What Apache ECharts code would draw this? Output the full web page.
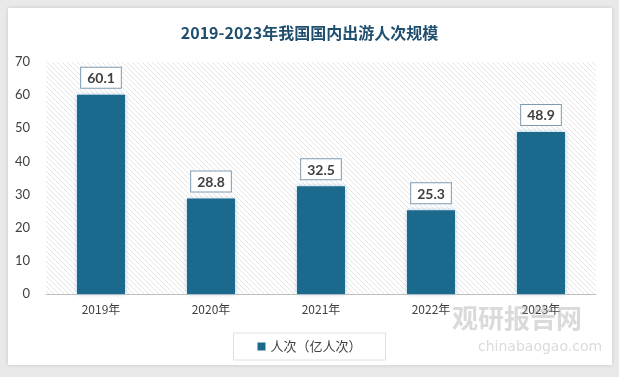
<!DOCTYPE html>
<html>
<head>
<meta charset="utf-8">
<script src="https://cdn.jsdelivr.net/npm/echarts@6/dist/echarts.min.js"></script>
<style>
  html, body { margin: 0; padding: 0; background: #fff; }
  #chart { width: 619px; height: 377px; }
</style>
</head>
<body>
<div id="chart"></div>
<script>
const titleText = '2019-2023年我国国内出游人次规模';
const years = ['2019年', '2020年', '2021年', '2022年', '2023年'];
const trips = [60.1, 28.8, 32.5, 25.3, 48.9];
const seriesName = '人次（亿人次）';

// diagonal hatch for the plot area
const hatch = document.createElement('canvas');
hatch.width = 5;
hatch.height = 5;
const hctx = hatch.getContext('2d');
hctx.fillStyle = '#ffffff';
hctx.fillRect(0, 0, 5, 5);
hctx.strokeStyle = '#dedede';
hctx.lineWidth = 0.8;
hctx.beginPath();
hctx.moveTo(0, 0); hctx.lineTo(5, 5);
hctx.moveTo(-1, 4); hctx.lineTo(1, 6);
hctx.moveTo(4, -1); hctx.lineTo(6, 1);
hctx.stroke();

const chart = echarts.init(document.getElementById('chart'));
const option = {
  backgroundColor: '#e9e9e9',
  animation: false,
  graphic: [
    {
      type: 'rect', z: -10,
      shape: { x: 8, y: 8, width: 604, height: 357 },
      style: { fill: '#ffffff', shadowBlur: 4, shadowColor: 'rgba(0,0,0,0.15)' }
    },
    {
      type: 'text', z: 100, left: 452, top: 305,
      style: { text: '观研报告网', font: 'bold 26px "Noto Sans CJK SC"', fill: 'rgba(150,150,150,0.35)' }
    },
    {
      type: 'text', z: 100, left: 478, top: 340,
      style: { text: 'chinabaogao.com', font: '14px "DejaVu Sans"', fill: 'rgba(150,150,150,0.35)' }
    }
  ],
  title: {
    text: titleText,
    left: 'center',
    top: 20,
    textStyle: { fontFamily: '"Noto Sans CJK SC"', fontSize: 16, fontWeight: 'bold', color: '#1f4e6e' }
  },
  legend: {
    bottom: 17,
    left: 'center',
    data: [seriesName],
    icon: 'rect',
    itemWidth: 8,
    itemHeight: 8,
    itemGap: 4,
    padding: [7, 24, 7, 24],
    borderColor: '#e0e0e0',
    borderWidth: 1,
    textStyle: { fontFamily: '"Noto Sans CJK SC"', fontSize: 13, color: '#404040' }
  },
  grid: {
    left: 46, right: 23, top: 62, bottom: 83,
    show: true,
    borderWidth: 0,
    backgroundColor: { image: hatch, repeat: 'repeat' }
  },
  xAxis: {
    type: 'category',
    data: years,
    axisLine: { lineStyle: { color: '#bfbfbf' } },
    axisTick: { show: false },
    axisLabel: { margin: 9, fontFamily: '"Noto Sans CJK SC"', fontSize: 12, color: '#404040' }
  },
  yAxis: {
    type: 'value',
    min: 0, max: 70, interval: 10,
    splitLine: { show: false },
    axisLine: { show: false },
    axisTick: { show: false },
    axisLabel: { margin: 16, fontFamily: 'Lato', fontSize: 13, color: '#404040' }
  },
  series: [{
    name: seriesName,
    type: 'bar',
    data: trips,
    barWidth: 48,
    itemStyle: {
      color: '#1b6a8e',
      shadowBlur: 4,
      shadowColor: 'rgba(120,170,200,0.6)'
    },
    label: {
      show: true,
      position: 'top',
      distance: 7,
      fontFamily: 'Lato',
      fontWeight: 'bold',
      fontSize: 14,
      color: '#404040',
      backgroundColor: '#ffffff',
      borderColor: '#7f9bb0',
      borderWidth: 1,
      padding: [4, 6, 2, 6]
    }
  }]
};
chart.setOption(option);
</script>
</body>
</html>
